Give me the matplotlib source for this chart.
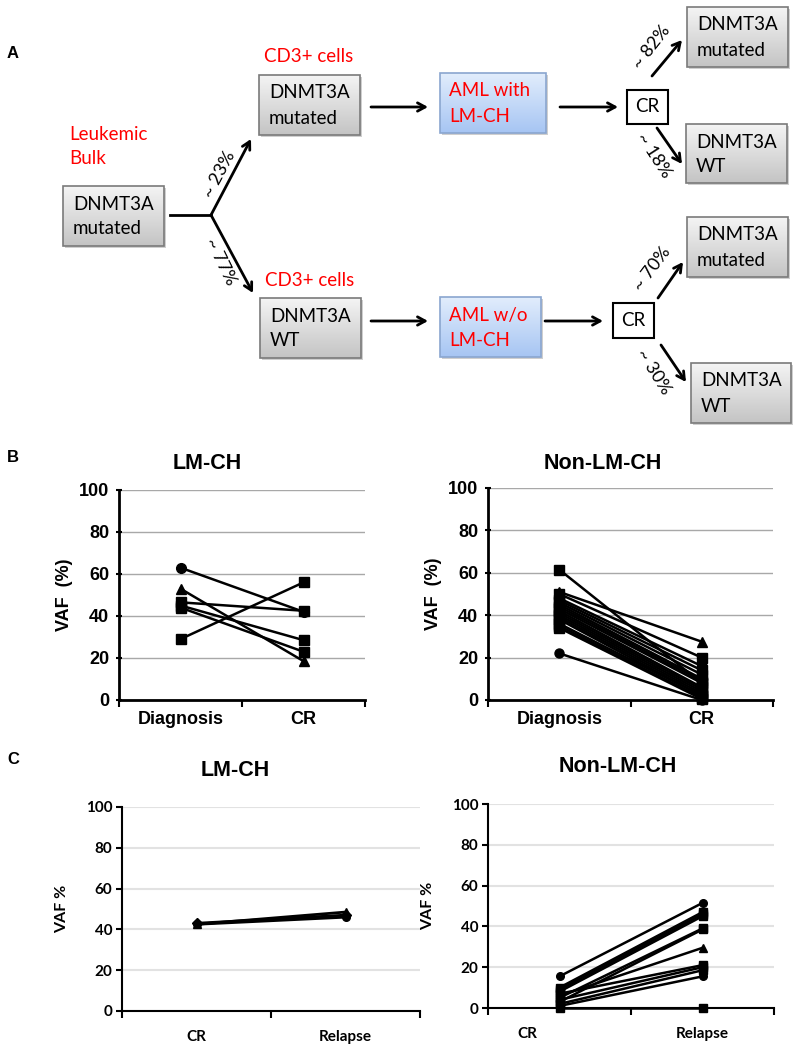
import numpy as np
import matplotlib
matplotlib.use('Agg')
import matplotlib.pyplot as plt
from matplotlib.patches import Rectangle
from matplotlib.transforms import ScaledTranslation

W, H = 800, 1052

# ---- data ----
b_cats = ['Diagnosis', 'CR']
c_cats = ['CR', 'Relapse']

# panel B, LM-CH : (diagnosis, CR, marker)
b_lm_diag = [63, 46.5, 45, 44, 53, 29]
b_lm_cr = [42, 42.5, 28.5, 23, 18.5, 56]
b_lm_mk = ['o', 's', 's', 's', '^', 's']

# panel B, Non-LM-CH
b_non_diag = [61.5, 51, 50, 48, 47, 46, 45, 44, 43, 42, 41, 40, 39, 38, 36, 35, 34, 22]
b_non_cr = [8, 27.5, 20, 16, 14, 12, 10, 9, 8, 6, 5, 4, 3, 2, 2, 1, 0.5, 0]
b_non_mk = ['s', '^', 's', 'o', 's', 's', 'D', 's', 's', 's', 'D', 's', 's', 's', 's', 's', 's', 'o']

# panel C, LM-CH
c_lm_cr = [42.5, 43, 42.5]
c_lm_rel = [48.5, 47, 46]
c_lm_mk = ['^', 'D', 'o']

# panel C, Non-LM-CH
c_non_cr = [15.5, 10, 9, 8, 5, 3, 6, 7, 4, 2, 1, 0]
c_non_rel = [51.5, 47, 46, 45, 39, 38.5, 29.5, 21, 20, 18.5, 15.5, 0]
c_non_mk = ['o', 's', 's', 's', 's', 's', '^', 's', 's', 's', 'o', 's']

yticks = [0, 20, 40, 60, 80, 100]

fig = plt.figure(figsize=(8, 10.52), dpi=100)

def px_axes(x0, y0, x1, y1):
    return fig.add_axes([x0 / W, 1 - y1 / H, (x1 - x0) / W, (y1 - y0) / H])

# ---------------- panel A diagram ----------------
dax = px_axes(0, 0, W, H)
dax.axis('off')

def grad_box(x0, y0, x1, y1, top, bottom, edge):
    sh = Rectangle((x0 + 2, y0 + 2), x1 - x0, y1 - y0, fc='#b0b0b0', ec='none', alpha=0.6, zorder=1)
    dax.add_patch(sh)
    t = np.array(matplotlib.colors.to_rgb(top))
    b = np.array(matplotlib.colors.to_rgb(bottom))
    g = np.linspace(0, 1, 64)[:, None, None]
    img = t + (b - t) * g
    img = np.repeat(img, 2, axis=1)
    dax.imshow(img, extent=(x0, x1, y1, y0), origin='upper', aspect='auto', zorder=2)
    dax.add_patch(Rectangle((x0, y0), x1 - x0, y1 - y0, fc='none', ec=edge, lw=1.2, zorder=3))

def gray_box(x0, y0, x1, y1, lines):
    grad_box(x0, y0, x1, y1, '#f4f4f4', '#c4c4c4', '#7a7a7a')
    dax.text(x0 + 10, y0 + 18, lines[0], fontsize=13.5, family='Lato', va='center', zorder=4)
    dax.text(x0 + 10, y0 + 43, lines[1], fontsize=13.5, family='Lato', va='center', zorder=4)

def blue_box(x0, y0, x1, y1, lines):
    grad_box(x0, y0, x1, y1, '#e2edfc', '#a6c5f3', '#8aa6cf')
    dax.text(x0 + 9, y0 + 18, lines[0], fontsize=13.5, family='Lato', color='red', va='center', zorder=4)
    dax.text(x0 + 9, y0 + 43, lines[1], fontsize=13.5, family='Lato', color='red', va='center', zorder=4)

def cr_box(x0, y0, x1, y1):
    dax.add_patch(Rectangle((x0, y0), x1 - x0, y1 - y0, fc='white', ec='black', lw=1.5, zorder=3))
    dax.text((x0 + x1) / 2, (y0 + y1) / 2, 'CR', fontsize=13.5, family='Lato', ha='center', va='center', zorder=4)

def arrow(x0, y0, x1, y1):
    dax.annotate('', xy=(x1, y1), xytext=(x0, y0),
                 arrowprops=dict(arrowstyle='->,head_length=0.55,head_width=0.3', lw=2, color='black',
                                 shrinkA=0, shrinkB=0), zorder=5)

def pct(x, y, s, rot):
    dax.text(x, y, s, fontsize=13, family='Lato', rotation=rot, rotation_mode='anchor',
             ha='center', va='center', zorder=4)

red_kw = dict(fontsize=13.5, family='Lato', color='red', va='center')

dax.text(13, 53, 'A', fontsize=12, family='Liberation Sans', fontweight='bold', ha='center', va='center')
dax.text(69, 134, 'Leukemic', **red_kw)
dax.text(69, 159, 'Bulk', **red_kw)
gray_box(63, 186, 164, 246, ['DNMT3A', 'mutated'])
dax.plot([170, 211], [215, 215], color='black', lw=2)
arrow(211, 215, 251, 139)
arrow(211, 215, 253, 293)
pct(219, 174, '~ 23%', 62)
pct(221, 262, '~ 77%', -64)

dax.text(264, 57, 'CD3+ cells', **red_kw)
gray_box(259, 75, 360, 135, ['DNMT3A', 'mutated'])
dax.text(265, 280, 'CD3+ cells', **red_kw)
gray_box(260, 298, 361, 358, ['DNMT3A', 'WT'])

arrow(371, 107, 428, 107)
blue_box(440, 73, 546, 133, ['AML with', 'LM-CH'])
arrow(560, 107, 618, 107)
cr_box(627, 90, 668, 124)
arrow(652, 76, 682, 40)
arrow(657, 128, 682, 164)
pct(652, 47, '~ 82%', 52)
pct(654, 155, '~ 18%', -57)
gray_box(687, 7, 788, 67, ['DNMT3A', 'mutated'])
gray_box(686, 124, 787, 183, ['DNMT3A', 'WT'])

arrow(371, 321, 428, 321)
blue_box(440, 297, 541, 357, ['AML w/o', 'LM-CH'])
arrow(545, 321, 603, 321)
cr_box(613, 303, 654, 338)
arrow(658, 298, 683, 262)
arrow(661, 345, 686, 382)
pct(652, 269, '~ 70%', 53)
pct(654, 372, '~ 30%', -58)
gray_box(687, 217, 788, 277, ['DNMT3A', 'mutated'])
gray_box(691, 363, 791, 423, ['DNMT3A', 'WT'])

dax.set_xlim(0, W)
dax.set_ylim(H, 0)

# panel letters
fig.text(13 / W, 1 - 458 / H, 'B', fontsize=12, family='Liberation Sans', fontweight='bold', ha='center', va='center')
fig.text(13 / W, 1 - 760 / H, 'C', fontsize=12, family='Liberation Sans', fontweight='bold', ha='center', va='center')

# ---------------- panel B ----------------
def style_b(ax, title, tx):
    ax.set_xlim(0, 2)
    ax.set_ylim(0, 100)
    ax.set_yticks(yticks)
    ax.set_xticks([0.5, 1.5])
    ax.set_xticklabels(b_cats)
    ax.set_xticks([0, 1, 2], minor=True)
    ax.tick_params(axis='x', which='major', length=0, pad=8)
    ax.tick_params(axis='x', which='minor', length=5, width=1.5, direction='out')
    ax.tick_params(axis='y', length=4, width=1.5, direction='inout', pad=5)
    for lab in ax.get_xticklabels() + ax.get_yticklabels():
        lab.set_fontfamily('Liberation Sans')
        lab.set_fontweight('bold')
        lab.set_fontsize(13)
    ax.yaxis.grid(True, color='#a8a8a8', lw=1)
    ax.set_axisbelow(True)
    for s in ['top', 'right']:
        ax.spines[s].set_visible(False)
    for s in ['left', 'bottom']:
        ax.spines[s].set_linewidth(2)
    ax.set_ylabel('VAF  (%)', family='Liberation Sans', fontweight='bold', fontsize=13, labelpad=4)
    fig.text(tx / W, 1 - 463 / H, title, family='Liberation Sans', fontweight='bold', fontsize=15.5,
             ha='center', va='center')

ax1 = px_axes(119, 490, 365, 700)
for d, c, m in zip(b_lm_diag, b_lm_cr, b_lm_mk):
    ax1.plot([0.5, 1.5], [d, c], color='black', lw=1.8, marker=m, ms=7, clip_on=False)
style_b(ax1, 'LM-CH', 207)

ax2 = px_axes(488, 488, 773, 700)
for d, c, m in zip(b_non_diag, b_non_cr, b_non_mk):
    ax2.plot([0.5, 1.5], [d, c], color='black', lw=1.8, marker=m, ms=6.5 if m != 'D' else 5, clip_on=False)
style_b(ax2, 'Non-LM-CH', 603)

# ---------------- panel C ----------------
def style_c(ax, title, tx, ty):
    ax.set_xlim(0, 2)
    ax.set_ylim(0, 100)
    ax.set_yticks(yticks)
    ax.set_xticks([0.5, 1.5])
    ax.set_xticklabels(c_cats)
    ax.set_xticks([0, 1, 2], minor=True)
    ax.tick_params(axis='x', which='major', length=0, pad=14)
    ax.tick_params(axis='x', which='minor', length=5, width=1.5, direction='out')
    ax.tick_params(axis='y', length=4, width=1.5, direction='out', pad=3)
    for lab in ax.get_xticklabels() + ax.get_yticklabels():
        lab.set_fontfamily('Lato')
        lab.set_fontweight('bold')
        lab.set_fontsize(11)
    ax.yaxis.grid(True, color='#e2e2e2', lw=1.5)
    ax.set_axisbelow(True)
    for s in ['top', 'right']:
        ax.spines[s].set_visible(False)
    for s in ['left', 'bottom']:
        ax.spines[s].set_linewidth(1.5)
    ax.set_ylabel('VAF %', family='Lato', fontweight='bold', fontsize=11.5, labelpad=12)
    fig.text(tx / W, 1 - ty / H, title, family='Liberation Sans', fontweight='bold', fontsize=15.5,
             ha='center', va='center')

ax3 = px_axes(122, 807, 420, 1011)
for a, b, m in zip(c_lm_cr, c_lm_rel, c_lm_mk):
    ax3.plot([0.5, 1.5], [a, b], color='black', lw=2, marker=m, ms=5.5, clip_on=False)
style_c(ax3, 'LM-CH', 235, 770)

ax4 = px_axes(488, 804, 774, 1008)
for a, b, m in zip(c_non_cr, c_non_rel, c_non_mk):
    ax4.plot([0.5, 1.5], [a, b], color='black', lw=1.8, marker=m, ms=5.5, clip_on=False)
style_c(ax4, 'Non-LM-CH', 618, 767)
lab0 = ax4.get_xticklabels()[0]
lab0.set_transform(lab0.get_transform() + ScaledTranslation(-0.32, 0, fig.dpi_scale_trans))

fig.savefig('out.png', dpi=100)
